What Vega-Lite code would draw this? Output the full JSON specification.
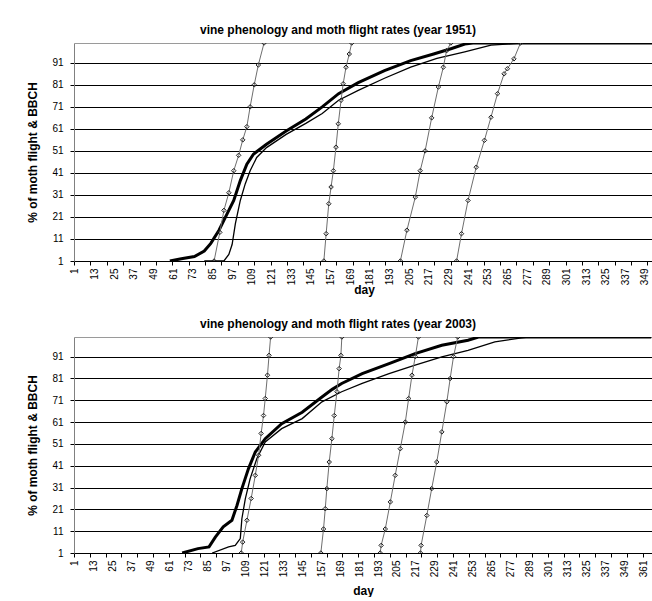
{
  "$schema": "https://vega.github.io/schema/vega-lite/v6.json",
  "background": "white",
  "padding": {"left": 26, "top": 24, "right": 0, "bottom": 0},
  "spacing": 22,
  "config": {
    "font": "Liberation Sans",
    "view": {"stroke": null},
    "axis": {"labelFontSize": 10, "labelColor": "black", "titleFontSize": 12, "titleFontWeight": "bold", "titleColor": "black", "labelFont": "Liberation Sans", "titleFont": "Liberation Sans"},
    "title": {"fontSize": 12, "fontWeight": "bold", "font": "Liberation Sans", "color": "black"}
  },
  "datasets": {
    "d1951": [
      {"series": "thick", "day": 59, "pct": 1}, {"series": "thick", "day": 66, "pct": 2}, {"series": "thick", "day": 74, "pct": 3}, {"series": "thick", "day": 80, "pct": 5.5}, {"series": "thick", "day": 84, "pct": 9}, {"series": "thick", "day": 89, "pct": 15}, {"series": "thick", "day": 94, "pct": 22.5}, {"series": "thick", "day": 98, "pct": 28.5}, {"series": "thick", "day": 102, "pct": 37.5}, {"series": "thick", "day": 106, "pct": 45}, {"series": "thick", "day": 110, "pct": 49.5}, {"series": "thick", "day": 118, "pct": 54}, {"series": "thick", "day": 130, "pct": 60}, {"series": "thick", "day": 142, "pct": 65.5}, {"series": "thick", "day": 152, "pct": 71}, {"series": "thick", "day": 162, "pct": 77}, {"series": "thick", "day": 174, "pct": 82}, {"series": "thick", "day": 190, "pct": 87.5}, {"series": "thick", "day": 206, "pct": 92}, {"series": "thick", "day": 220, "pct": 95}, {"series": "thick", "day": 231, "pct": 97.5}, {"series": "thick", "day": 239, "pct": 99.5}, {"series": "thick", "day": 244, "pct": 100}, {"series": "thick", "day": 365, "pct": 100},
      {"series": "thin", "day": 80, "pct": 1}, {"series": "thin", "day": 92, "pct": 1}, {"series": "thin", "day": 95, "pct": 4}, {"series": "thin", "day": 97, "pct": 8.5}, {"series": "thin", "day": 99, "pct": 18}, {"series": "thin", "day": 102, "pct": 28.5}, {"series": "thin", "day": 105, "pct": 36}, {"series": "thin", "day": 108, "pct": 42}, {"series": "thin", "day": 112, "pct": 48}, {"series": "thin", "day": 118, "pct": 52.5}, {"series": "thin", "day": 130, "pct": 58.5}, {"series": "thin", "day": 142, "pct": 63.5}, {"series": "thin", "day": 152, "pct": 68}, {"series": "thin", "day": 162, "pct": 74}, {"series": "thin", "day": 174, "pct": 78.5}, {"series": "thin", "day": 190, "pct": 84}, {"series": "thin", "day": 206, "pct": 89}, {"series": "thin", "day": 222, "pct": 93}, {"series": "thin", "day": 239, "pct": 96}, {"series": "thin", "day": 255, "pct": 99}, {"series": "thin", "day": 267, "pct": 99.6}, {"series": "thin", "day": 273, "pct": 100}, {"series": "thin", "day": 365, "pct": 100},
      {"series": "BBCH1", "day": 86, "pct": 1}, {"series": "BBCH1", "day": 89.5, "pct": 14}, {"series": "BBCH1", "day": 92, "pct": 24}, {"series": "BBCH1", "day": 95, "pct": 32}, {"series": "BBCH1", "day": 98, "pct": 42}, {"series": "BBCH1", "day": 101, "pct": 49}, {"series": "BBCH1", "day": 103.5, "pct": 56}, {"series": "BBCH1", "day": 106, "pct": 62}, {"series": "BBCH1", "day": 108, "pct": 71}, {"series": "BBCH1", "day": 110.5, "pct": 81}, {"series": "BBCH1", "day": 113, "pct": 90}, {"series": "BBCH1", "day": 116.5, "pct": 100},
      {"series": "BBCH2", "day": 153, "pct": 1}, {"series": "BBCH2", "day": 154.4, "pct": 13.4}, {"series": "BBCH2", "day": 156, "pct": 27}, {"series": "BBCH2", "day": 157.4, "pct": 34.6}, {"series": "BBCH2", "day": 158.8, "pct": 42}, {"series": "BBCH2", "day": 160.4, "pct": 52.7}, {"series": "BBCH2", "day": 161.8, "pct": 63.3}, {"series": "BBCH2", "day": 163.5, "pct": 74}, {"series": "BBCH2", "day": 164.8, "pct": 81.5}, {"series": "BBCH2", "day": 166.5, "pct": 89}, {"series": "BBCH2", "day": 168.5, "pct": 95}, {"series": "BBCH2", "day": 170, "pct": 100},
      {"series": "BBCH3", "day": 199.7, "pct": 1}, {"series": "BBCH3", "day": 203.7, "pct": 15}, {"series": "BBCH3", "day": 208.8, "pct": 30}, {"series": "BBCH3", "day": 211.8, "pct": 42}, {"series": "BBCH3", "day": 214.8, "pct": 51}, {"series": "BBCH3", "day": 218.8, "pct": 66}, {"series": "BBCH3", "day": 222.9, "pct": 80}, {"series": "BBCH3", "day": 225.9, "pct": 89}, {"series": "BBCH3", "day": 227.9, "pct": 96.5}, {"series": "BBCH3", "day": 230.5, "pct": 100},
      {"series": "BBCH4", "day": 234, "pct": 1}, {"series": "BBCH4", "day": 237, "pct": 13.4}, {"series": "BBCH4", "day": 241, "pct": 28.5}, {"series": "BBCH4", "day": 246, "pct": 43.6}, {"series": "BBCH4", "day": 251, "pct": 55.8}, {"series": "BBCH4", "day": 255, "pct": 66.3}, {"series": "BBCH4", "day": 259, "pct": 77}, {"series": "BBCH4", "day": 263, "pct": 86}, {"series": "BBCH4", "day": 265, "pct": 88.3}, {"series": "BBCH4", "day": 269, "pct": 92.8}, {"series": "BBCH4", "day": 273, "pct": 100}
    ],
    "d2003": [
      {"series": "thick", "day": 69, "pct": 1}, {"series": "thick", "day": 79, "pct": 3}, {"series": "thick", "day": 86, "pct": 3.8}, {"series": "thick", "day": 90, "pct": 8.3}, {"series": "thick", "day": 95, "pct": 13}, {"series": "thick", "day": 100.5, "pct": 16}, {"series": "thick", "day": 103.7, "pct": 22.8}, {"series": "thick", "day": 106.8, "pct": 30.5}, {"series": "thick", "day": 111, "pct": 39.7}, {"series": "thick", "day": 115.3, "pct": 47.3}, {"series": "thick", "day": 121.6, "pct": 53.4}, {"series": "thick", "day": 132, "pct": 60.3}, {"series": "thick", "day": 145, "pct": 65.5}, {"series": "thick", "day": 157.5, "pct": 72.5}, {"series": "thick", "day": 164, "pct": 76}, {"series": "thick", "day": 170, "pct": 78.7}, {"series": "thick", "day": 183, "pct": 83.2}, {"series": "thick", "day": 200, "pct": 87.8}, {"series": "thick", "day": 216.5, "pct": 92.4}, {"series": "thick", "day": 233.4, "pct": 96.2}, {"series": "thick", "day": 250, "pct": 98.5}, {"series": "thick", "day": 256.6, "pct": 100}, {"series": "thick", "day": 366, "pct": 100},
      {"series": "thin", "day": 88, "pct": 1}, {"series": "thin", "day": 98.4, "pct": 3.8}, {"series": "thin", "day": 102.6, "pct": 4.5}, {"series": "thin", "day": 105.8, "pct": 7.6}, {"series": "thin", "day": 106.8, "pct": 16.7}, {"series": "thin", "day": 109, "pct": 25.9}, {"series": "thin", "day": 112, "pct": 35}, {"series": "thin", "day": 116.3, "pct": 44.3}, {"series": "thin", "day": 121.6, "pct": 51.9}, {"series": "thin", "day": 132, "pct": 58}, {"series": "thin", "day": 145, "pct": 62.6}, {"series": "thin", "day": 157.5, "pct": 70.3}, {"series": "thin", "day": 170, "pct": 74.9}, {"series": "thin", "day": 183, "pct": 78.7}, {"series": "thin", "day": 200, "pct": 83.2}, {"series": "thin", "day": 216.5, "pct": 87.1}, {"series": "thin", "day": 233.4, "pct": 90.9}, {"series": "thin", "day": 250, "pct": 93.9}, {"series": "thin", "day": 267, "pct": 97.8}, {"series": "thin", "day": 284, "pct": 99.6}, {"series": "thin", "day": 288, "pct": 100}, {"series": "thin", "day": 366, "pct": 100},
      {"series": "BBCH1", "day": 106.4, "pct": 1}, {"series": "BBCH1", "day": 107.3, "pct": 6}, {"series": "BBCH1", "day": 110, "pct": 16}, {"series": "BBCH1", "day": 112.7, "pct": 26}, {"series": "BBCH1", "day": 115.3, "pct": 36.6}, {"series": "BBCH1", "day": 117.4, "pct": 45.8}, {"series": "BBCH1", "day": 119, "pct": 55.8}, {"series": "BBCH1", "day": 120.5, "pct": 64}, {"series": "BBCH1", "day": 121.6, "pct": 71.8}, {"series": "BBCH1", "day": 123, "pct": 82.5}, {"series": "BBCH1", "day": 124, "pct": 91.6}, {"series": "BBCH1", "day": 125, "pct": 100},
      {"series": "BBCH2", "day": 156.8, "pct": 1}, {"series": "BBCH2", "day": 158.5, "pct": 12}, {"series": "BBCH2", "day": 159.6, "pct": 21.3}, {"series": "BBCH2", "day": 160.6, "pct": 30.5}, {"series": "BBCH2", "day": 162.1, "pct": 42.7}, {"series": "BBCH2", "day": 163.8, "pct": 53.4}, {"series": "BBCH2", "day": 165.3, "pct": 64}, {"series": "BBCH2", "day": 167, "pct": 74.9}, {"series": "BBCH2", "day": 168.4, "pct": 85.5}, {"series": "BBCH2", "day": 169.5, "pct": 91.6}, {"series": "BBCH2", "day": 170.1, "pct": 100},
      {"series": "BBCH3", "day": 194.4, "pct": 1}, {"series": "BBCH3", "day": 195, "pct": 4.5}, {"series": "BBCH3", "day": 197.6, "pct": 12}, {"series": "BBCH3", "day": 200.8, "pct": 24.4}, {"series": "BBCH3", "day": 203.9, "pct": 36.6}, {"series": "BBCH3", "day": 207.1, "pct": 48.8}, {"series": "BBCH3", "day": 210.3, "pct": 61}, {"series": "BBCH3", "day": 212.4, "pct": 71.8}, {"series": "BBCH3", "day": 214.5, "pct": 82.5}, {"series": "BBCH3", "day": 216.6, "pct": 91}, {"series": "BBCH3", "day": 218.6, "pct": 100},
      {"series": "BBCH4", "day": 219.9, "pct": 1}, {"series": "BBCH4", "day": 220.3, "pct": 4.5}, {"series": "BBCH4", "day": 223.9, "pct": 18.2}, {"series": "BBCH4", "day": 227, "pct": 30.5}, {"series": "BBCH4", "day": 230.2, "pct": 42.7}, {"series": "BBCH4", "day": 233.4, "pct": 56.5}, {"series": "BBCH4", "day": 236.6, "pct": 70.3}, {"series": "BBCH4", "day": 238.7, "pct": 81}, {"series": "BBCH4", "day": 240.8, "pct": 91}, {"series": "BBCH4", "day": 243.5, "pct": 100}
    ]
  },
  "vconcat": [
    {
      "data": {"name": "d1951"},
      "width": 580,
      "height": 218,
      "title": {"text": "vine phenology and moth flight rates (year 1951)", "dx": -26, "offset": 6},
      "encoding": {
        "x": {"field": "day", "type": "quantitative", "scale": {"domain": [0.5, 354.5], "nice": false, "zero": false},
          "axis": {"title": "day", "titlePadding": 0, "values": [1, 13, 25, 37, 49, 61, 73, 85, 97, 109, 121, 133, 145, 157, 169, 181, 193, 205, 217, 229, 241, 253, 265, 277, 289, 301, 313, 325, 337, 349, 0.5, 10.5, 20.5, 30.5, 40.5, 50.5, 60.5, 70.5, 80.5, 90.5, 100.5, 110.5, 120.5, 130.5, 140.5, 150.5, 160.5, 170.5, 180.5, 190.5, 200.5, 210.5, 220.5, 230.5, 240.5, 250.5, 260.5, 270.5, 280.5, 290.5, 300.5, 310.5, 320.5, 330.5, 340.5, 350.5],
            "labelExpr": "datum.value % 1 == 0 ? datum.label : ''", "labelAngle": 270, "labelOverlap": false, "labelFlush": false, "labelBound": false, "labelPadding": 3,
            "tickOpacity": {"condition": {"test": "datum.value % 1 != 0", "value": 1}, "value": 0}, "tickSize": 4, "tickColor": "black", "domainColor": "black", "grid": false}},
        "y": {"field": "pct", "type": "quantitative", "scale": {"domain": [1, 100], "nice": false, "zero": false},
          "axis": {"title": "% of moth flight & BBCH", "titlePadding": 12, "values": [1, 11, 21, 31, 41, 51, 61, 71, 81, 91, 100], "labelExpr": "datum.value == 100 ? '' : datum.label",
            "grid": true, "gridColor": {"condition": {"test": "datum.value == 100", "value": "#9a9a9a"}, "value": "black"}, "gridOpacity": 1, "gridWidth": 1,
            "tickOpacity": {"condition": {"test": "datum.value == 100", "value": 0}, "value": 1}, "tickSize": 4, "tickColor": "black", "domainColor": "#808080", "labelPadding": 7}}
      },
      "layer": [
        {"transform": [{"filter": "datum.series == 'thin'"}], "mark": {"type": "line", "color": "black", "strokeWidth": 1.3, "clip": true}},
        {"transform": [{"filter": "datum.series == 'thick'"}], "mark": {"type": "line", "color": "black", "strokeWidth": 3, "clip": true}},
        {"transform": [{"filter": "indexof(datum.series, 'BBCH') == 0"}], "mark": {"type": "line", "color": "#6e6e6e", "strokeWidth": 1, "clip": true, "point": {"shape": "diamond", "filled": false, "stroke": "#222222", "strokeWidth": 1, "size": 20}}, "encoding": {"detail": {"field": "series"}}}
      ]
    },
    {
      "data": {"name": "d2003"},
      "width": 578,
      "height": 216,
      "title": {"text": "vine phenology and moth flight rates (year 2003)", "dx": -25, "offset": 6},
      "encoding": {
        "x": {"field": "day", "type": "quantitative", "scale": {"domain": [0.5, 366.5], "nice": false, "zero": false},
          "axis": {"title": "day", "titlePadding": 9, "values": [1, 13, 25, 37, 49, 61, 73, 85, 97, 109, 121, 133, 145, 157, 169, 181, 193, 205, 217, 229, 241, 253, 265, 277, 289, 301, 313, 325, 337, 349, 361, 0.5, 10.5, 20.5, 30.5, 40.5, 50.5, 60.5, 70.5, 80.5, 90.5, 100.5, 110.5, 120.5, 130.5, 140.5, 150.5, 160.5, 170.5, 180.5, 190.5, 200.5, 210.5, 220.5, 230.5, 240.5, 250.5, 260.5, 270.5, 280.5, 290.5, 300.5, 310.5, 320.5, 330.5, 340.5, 350.5, 360.5],
            "labelExpr": "datum.value % 1 == 0 ? datum.label : ''", "labelAngle": 270, "labelOverlap": false, "labelFlush": false, "labelBound": false, "labelPadding": 3,
            "tickOpacity": {"condition": {"test": "datum.value % 1 != 0", "value": 1}, "value": 0}, "tickSize": 4, "tickColor": "black", "domainColor": "black", "grid": false}},
        "y": {"field": "pct", "type": "quantitative", "scale": {"domain": [1, 100], "nice": false, "zero": false},
          "axis": {"title": "% of moth flight & BBCH", "titlePadding": 12, "values": [1, 11, 21, 31, 41, 51, 61, 71, 81, 91, 100], "labelExpr": "datum.value == 100 ? '' : datum.label",
            "grid": true, "gridColor": {"condition": {"test": "datum.value == 100", "value": "#9a9a9a"}, "value": "black"}, "gridOpacity": 1, "gridWidth": 1,
            "tickOpacity": {"condition": {"test": "datum.value == 100", "value": 0}, "value": 1}, "tickSize": 4, "tickColor": "black", "domainColor": "#808080", "labelPadding": 7}}
      },
      "layer": [
        {"transform": [{"filter": "datum.series == 'thin'"}], "mark": {"type": "line", "color": "black", "strokeWidth": 1.3, "clip": true}},
        {"transform": [{"filter": "datum.series == 'thick'"}], "mark": {"type": "line", "color": "black", "strokeWidth": 3, "clip": true}},
        {"transform": [{"filter": "indexof(datum.series, 'BBCH') == 0"}], "mark": {"type": "line", "color": "#6e6e6e", "strokeWidth": 1, "clip": true, "point": {"shape": "diamond", "filled": false, "stroke": "#222222", "strokeWidth": 1, "size": 20}}, "encoding": {"detail": {"field": "series"}}}
      ]
    }
  ]
}
